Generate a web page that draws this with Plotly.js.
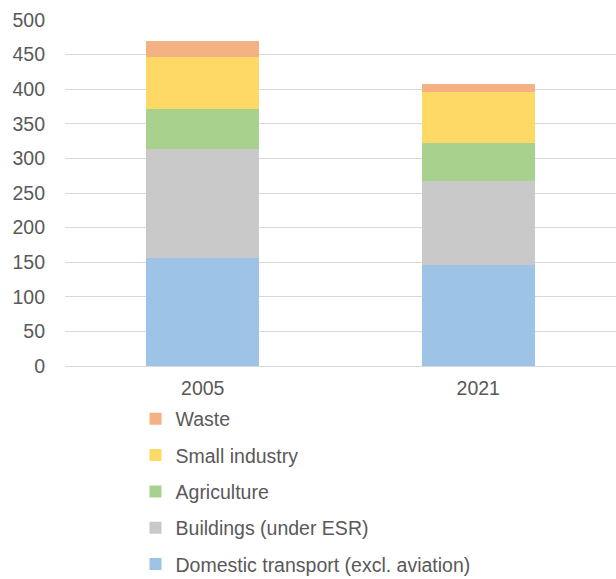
<!DOCTYPE html>
<html>
<head>
<meta charset="utf-8">
<script src="https://cdn.plot.ly/plotly-3.0.1.min.js"></script>
<style>html,body{margin:0;padding:0;background:#fff;}</style>
</head>
<body>
<div id="chart" style="width:616px;height:579px;"></div>
<script>
const years = ["2005", "2021"];
const seriesNames = ["Domestic transport (excl. aviation)", "Buildings (under ESR)", "Agriculture", "Small industry", "Waste"];
const transport = [156, 146];
const buildings = [158, 121];
const agriculture = [58, 55];
const smallIndustry = [74, 74];
const waste = [24, 11];
const colors = ["#9DC3E6", "#C9C9C9", "#A9D18E", "#FFD966", "#F4B183"];
const yTicks = [0, 50, 100, 150, 200, 250, 300, 350, 400, 450, 500];

const values = [transport, buildings, agriculture, smallIndustry, waste];
const traces = values.map((v, i) => ({
  type: "bar",
  x: years,
  y: v,
  name: seriesNames[i],
  legendgroup: "g" + i,
  legendrank: 100 - i,
  marker: {color: colors[i], line: {width: 0}},
  hoverinfo: "name+y"
}));

const layout = {
  width: 616,
  height: 579,
  barmode: "stack",
  bargap: 0.59,
  margin: {l: 65, r: 0, t: 20, b: 213},
  paper_bgcolor: "#fff",
  plot_bgcolor: "#fff",
  font: {family: "Liberation Sans, Arial, sans-serif", size: 19.5, color: "#595959"},
  xaxis: {
    type: "category",
    showgrid: false,
    showline: true,
    linecolor: "#D9D9D9",
    linewidth: 1,
    ticks: "",
    ticklabelstandoff: 5,
    tickfont: {size: 19.5, color: "#595959"}
  },
  yaxis: {
    range: [0, 500],
    tickvals: yTicks,
    ticktext: yTicks.map(String),
    showgrid: true,
    gridcolor: "#D9D9D9",
    gridwidth: 1,
    zeroline: false,
    showline: false,
    ticks: "",
    ticklabelstandoff: 19,
    tickfont: {size: 19.5, color: "#595959"}
  },
  legend: {
    orientation: "v",
    traceorder: "grouped",
    tracegroupgap: 8,
    x: 0.128,
    xanchor: "left",
    yref: "container",
    y: 0.31,
    yanchor: "top",
    font: {size: 19.5, color: "#595959"},
    itemwidth: 30,
    bgcolor: "rgba(0,0,0,0)"
  },
  showlegend: true
};

Plotly.newPlot("chart", traces, layout, {displayModeBar: false, responsive: false});
</script>
</body>
</html>
